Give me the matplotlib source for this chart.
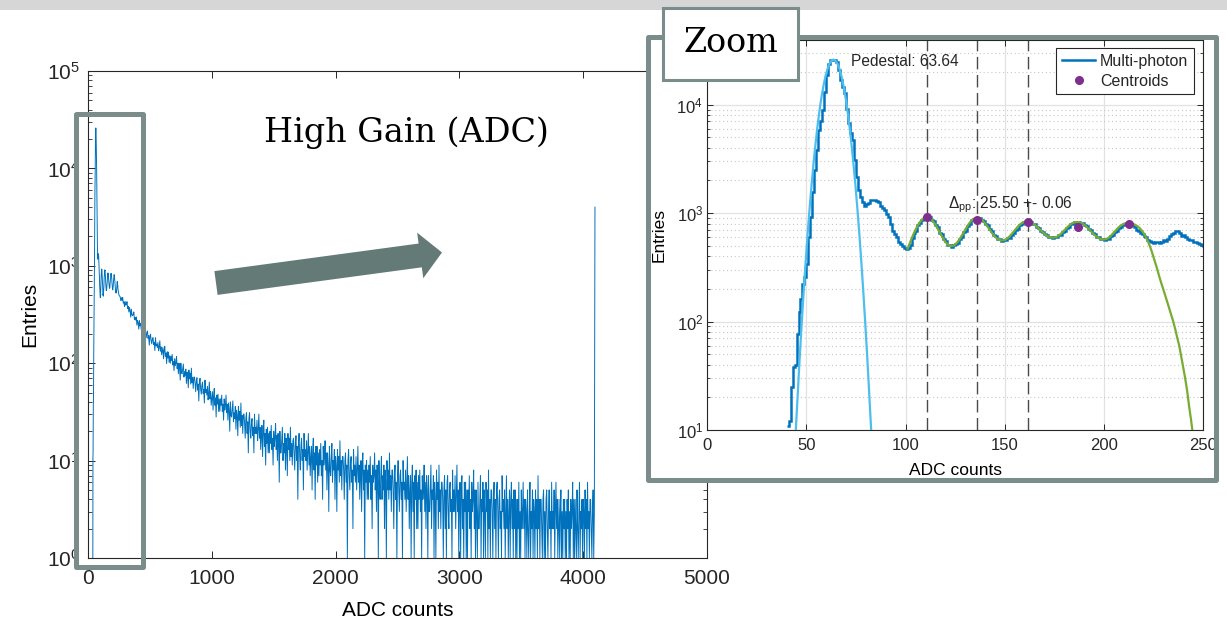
import numpy as np
import matplotlib
matplotlib.use('Agg')
import matplotlib.pyplot as plt
from matplotlib.patches import Rectangle, FancyArrow

plt.rcParams.update({
    'font.family': ['Liberation Sans', 'DejaVu Sans'],
    'mathtext.fontset': 'custom',
    'mathtext.rm': 'Liberation Sans',
    'mathtext.it': 'Liberation Sans:italic',
    'mathtext.default': 'regular',
    'axes.edgecolor': '#262626',
    'axes.linewidth': 0.8,
    'text.color': '#262626',
    'xtick.color': '#262626',
    'ytick.color': '#262626',
    'xtick.direction': 'in',
    'ytick.direction': 'in',
})

W, H = 1227, 624
BLUE = '#0072bd'
CYAN = '#4dbeee'
GREEN = '#77ac30'
PURPLE = '#7e2f8e'
SLATE = '#7b8d8b'
SLATE_DARK = '#647a77'

# multi-photon spectrum, 1-ADC bins starting at 40
zoom_adc = np.arange(40, 251)
zoom_counts = [
    11, 12, 25, 38, 40, 76, 122, 163, 224, 260,
    340, 600, 910, 1570, 2480, 3800, 5820, 7000, 8900, 13000,
    18600, 23900, 25500, 26000, 25500, 24500, 20700, 16700, 14500, 12700,
    9200, 6700, 5500, 4700, 3070, 2150, 1630, 1400, 1260, 1170,
    1220, 1240, 1310, 1330, 1330, 1300, 1260, 1170, 1120, 1060,
    980, 920, 790, 690, 640, 600, 540, 520, 500, 475,
    470, 478, 512, 590, 655, 690, 772, 808, 872, 884,
    925, 905, 912, 862, 846, 772, 742, 660, 636, 572,
    552, 508, 512, 488, 505, 520, 528, 575, 598, 662,
    690, 762, 792, 858, 870, 905, 890, 902, 868, 852,
    800, 772, 712, 684, 632, 615, 578, 574, 556, 566,
    560, 584, 592, 632, 650, 700, 720, 770, 786, 824,
    826, 845, 830, 832, 800, 790, 748, 732, 690, 676,
    640, 630, 602, 604, 588, 598, 596, 622, 630, 670,
    686, 730, 748, 790, 800, 826, 818, 832, 812, 810,
    776, 762, 718, 700, 658, 642, 606, 598, 574, 578,
    566, 580, 582, 612, 624, 668, 684, 730, 746, 784,
    790, 812, 800, 790, 770, 740, 700, 690, 660, 640,
    610, 600, 570, 550, 540, 530, 545, 540, 525, 545,
    560, 555, 580, 610, 640, 650, 690, 680, 650, 620,
    630, 600, 575, 570, 560, 545, 540, 525, 520, 510,
    500,
]

# full-range spectrum above the zoom window, one bin every 5 ADC
tail_adc = np.arange(260, 4091, 5)
tail_counts = [
    # 260 - 355
    480, 438, 471, 441, 472, 414, 426, 381, 431, 394,
    400, 428, 365, 383, 336, 374, 346, 297, 359, 314,
    307, 319, 336, 281, 295, 277, 298, 246, 276, 260,
    224, 275, 242, 256, 222, 270, 219, 232, 199, 228,
    # 460 - 655
    224, 204, 183, 207, 214, 180, 192, 153, 190, 199,
    170, 158, 177, 183, 156, 163, 135, 183, 151, 157,
    145, 163, 134, 146, 170, 133, 147, 122, 134, 145,
    111, 136, 149, 117, 127, 99, 131, 113, 130, 102,
    # 660 - 855
    119, 100, 118, 106, 123, 96, 104, 84, 111, 95,
    100, 117, 88, 100, 78, 100, 89, 67, 100, 80,
    78, 87, 98, 72, 82, 75, 87, 62, 81, 74,
    56, 85, 69, 79, 61, 89, 63, 71, 55, 72,
    # 860 - 1055
    72, 62, 51, 66, 71, 53, 61, 41, 64, 70,
    54, 48, 59, 64, 49, 54, 39, 67, 50, 54,
    47, 58, 42, 49, 64, 43, 51, 37, 44, 51,
    33, 47, 55, 37, 44, 28, 47, 38, 48, 32,
    # 1060 - 1255
    43, 32, 43, 37, 47, 32, 38, 26, 43, 33,
    37, 47, 31, 38, 26, 39, 33, 20, 40, 29,
    28, 34, 41, 25, 31, 27, 36, 21, 33, 29,
    18, 36, 26, 32, 22, 39, 23, 29, 19, 30,
    # 1260 - 1455
    30, 24, 17, 27, 31, 19, 25, 12, 27, 31,
    20, 17, 24, 27, 18, 22, 12, 30, 19, 22,
    19, 26, 16, 21, 30, 17, 22, 13, 18, 23,
    11, 20, 26, 14, 19, 9, 21, 15, 22, 12,
    # 1460 - 1655
    19, 12, 20, 15, 23, 13, 17, 9, 20, 14,
    17, 24, 13, 18, 10, 19, 15, 6, 20, 12,
    12, 16, 22, 10, 15, 12, 19, 8, 17, 14,
    7, 19, 13, 17, 10, 22, 11, 15, 9, 16,
    # 1660 - 1855
    17, 12, 8, 15, 18, 10, 14, 4, 15, 19,
    11, 8, 14, 17, 10, 13, 5, 19, 11, 13,
    10, 16, 8, 12, 19, 9, 14, 7, 11, 14,
    5, 13, 17, 8, 12, 4, 14, 9, 14, 6,
    # 1860 - 2055
    12, 7, 13, 9, 15, 7, 10, 4, 14, 9,
    11, 16, 8, 12, 5, 12, 9, 3, 14, 8,
    7, 11, 15, 6, 10, 8, 13, 4, 11, 9,
    3, 13, 8, 11, 6, 16, 7, 10, 5, 11,
    # 2060 - 2255
    11, 8, 4, 10, 12, 6, 9, 1, 10, 13,
    7, 5, 9, 11, 6, 8, 2, 13, 7, 9,
    6, 11, 5, 8, 14, 6, 9, 4, 7, 10,
    3, 9, 12, 5, 8, 1, 9, 6, 10, 4,
    # 2260 - 2455
    8, 4, 9, 6, 11, 4, 7, 2, 9, 6,
    7, 12, 5, 8, 3, 9, 6, 1, 10, 5,
    4, 7, 11, 4, 7, 5, 9, 2, 8, 6,
    1, 10, 5, 8, 4, 12, 5, 7, 3, 8,
    # 2460 - 2655
    8, 5, 2, 7, 9, 4, 6, 1, 7, 10,
    5, 3, 7, 8, 4, 6, 1, 10, 5, 6,
    4, 8, 3, 6, 11, 4, 7, 2, 5, 7,
    1, 6, 9, 3, 6, 1, 7, 4, 8, 2,
    # 2660 - 2855
    6, 2, 7, 4, 8, 3, 5, 1, 7, 4,
    5, 9, 3, 6, 2, 7, 5, 1, 7, 3,
    3, 5, 9, 2, 5, 4, 7, 1, 6, 4,
    1, 8, 4, 6, 2, 9, 3, 5, 2, 6,
    # 2860 - 3055
    6, 4, 1, 5, 7, 2, 5, 1, 6, 7,
    3, 2, 5, 6, 3, 4, 1, 8, 3, 5,
    3, 7, 2, 4, 9, 3, 5, 1, 4, 6,
    1, 5, 7, 2, 4, 1, 6, 3, 6, 1,
    # 3060 - 3255
    5, 1, 5, 3, 7, 2, 4, 1, 6, 3,
    4, 8, 2, 5, 1, 5, 3, 1, 6, 2,
    2, 4, 7, 1, 4, 3, 6, 1, 5, 3,
    1, 6, 3, 5, 1, 8, 2, 4, 1, 5,
    # 3260 - 3455
    5, 3, 1, 4, 6, 2, 4, 1, 5, 6,
    3, 1, 4, 5, 2, 3, 1, 7, 3, 4,
    2, 5, 1, 3, 7, 2, 4, 1, 3, 5,
    1, 4, 6, 2, 4, 1, 5, 2, 5, 1,
    # 3460 - 3655
    4, 1, 4, 2, 6, 1, 3, 1, 5, 2,
    3, 6, 2, 4, 1, 4, 3, 1, 5, 2,
    1, 3, 6, 1, 3, 2, 5, 1, 4, 3,
    1, 5, 2, 4, 1, 7, 2, 4, 1, 4,
    # 3660 - 3855
    4, 2, 1, 4, 5, 1, 3, 1, 4, 5,
    2, 1, 3, 5, 2, 3, 1, 6, 2, 3,
    2, 5, 1, 3, 6, 2, 4, 1, 2, 4,
    1, 3, 5, 1, 3, 1, 4, 2, 4, 1,
    # 3860 - 4055
    3, 1, 4, 2, 5, 1, 3, 1, 4, 2,
    3, 6, 1, 4, 1, 4, 2, 1, 5, 2,
    1, 3, 6, 1, 3, 2, 4, 1, 4, 3,
    1, 5, 2, 4, 1, 6, 2, 3, 1, 4,
    # 4060 - 4090
    4, 2, 1, 3, 5, 1, 3,
]
overflow_adc = 4095
overflow_count = 4000

# pedestal gaussian fit, offsets from the pedestal mean
pedestal_mean = 63.64
ped_fit_offset = np.arange(-20, 21)
ped_fit_counts = [
    4.3, 10, 22, 48, 98, 194, 364, 655, 1130, 1864, 2943,
    4455, 6450, 8940, 11870, 15080, 18360, 21370, 23840, 25430, 26000,
    25430, 23840, 21370, 18360, 15080, 11870, 8940, 6450, 4455, 2943,
    1864, 1130, 655, 364, 194, 98, 48, 22, 10, 4.3,
]

# multi-photon peak fit
mp_fit_adc = np.arange(101, 246)
mp_fit_counts = [
    470, 520, 580, 640, 700, 760, 815, 860, 895, 915,
    918, 905, 875, 835, 785, 730, 675, 625, 580, 545,
    518, 502, 497, 500, 512, 535, 565, 605, 650, 700,
    750, 800, 845, 878, 895, 900, 893, 875, 845, 808,
    765, 720, 677, 640, 608, 585, 568, 561, 560, 565,
    578, 598, 625, 657, 692, 728, 763, 793, 817, 832,
    838, 836, 826, 808, 783, 755, 726, 697, 670, 645,
    624, 608, 598, 593, 594, 600, 615, 636, 662, 692,
    723, 755, 784, 806, 820, 826, 826, 820, 805, 783,
    756, 726, 695, 665, 637, 612, 592, 579, 572, 570,
    574, 586, 605, 630, 660, 692, 724, 754, 778, 796,
    805, 806, 806, 800, 790, 775, 755, 728, 695, 655,
    610, 560, 505, 451, 395, 345, 300, 258, 225, 198,
    173, 151, 132, 115, 100, 85, 71, 60, 48, 38,
    30, 23, 16.5, 12.3, 8.8,
]

centroid_adc = [110.6, 136.1, 161.6, 187.1, 212.6]
centroid_counts = [918, 858, 826, 743, 798]
delta_pp = 25.50
delta_pp_err = 0.06

fig = plt.figure(figsize=(W / 100, H / 100), dpi=100)

# ---- full-range spectrum ----
ax = fig.add_axes([88 / W, 1 - 558 / H, 619 / W, 487 / H], zorder=0)
full_adc = np.concatenate([[39], zoom_adc, tail_adc, [overflow_adc]])
full_counts = np.concatenate([[1], zoom_counts, tail_counts, [overflow_count]])
ax.plot(full_adc, full_counts, color=BLUE, lw=0.7)
ax.set_yscale('log')
ax.set_xlim(0, 5000)
ax.set_ylim(1, 1e5)
ax.set_xticks(np.arange(0, 5001, 1000))
ax.set_yticks([1, 10, 100, 1e3, 1e4, 1e5])
ax.tick_params(which='both', top=True, right=True, labelsize=15)
ax.tick_params(which='major', length=5, width=0.7)
ax.tick_params(which='minor', length=3, width=0.6)
ax.tick_params(axis='x', pad=8)
ax.tick_params(axis='y', pad=6)
ax.set_xlabel('ADC counts', fontsize=15)
ax.set_ylabel('Entries', fontsize=15)
ax.xaxis.set_label_coords(0.5, -0.088)
ax.yaxis.set_label_coords(-0.079, 0.5)

# white card behind the zoomed view
back = fig.add_axes([0, 0, 1, 1], zorder=1)
back.set_xlim(0, W)
back.set_ylim(H, 0)
back.set_axis_off()
back.add_patch(Rectangle((648, 37), 568, 443, fc='white', ec='none'))

# ---- zoom on the pedestal and first photo-electron peaks ----
ins = fig.add_axes([707.3 / W, 1 - 430 / H, 495.7 / W, 390.5 / H], zorder=2)
ins.set_yscale('log')
ins.set_xlim(0, 250)
ins.set_ylim(10, 10 ** 4.6)
ins.set_axisbelow(True)
ins.grid(True, which='major', color='#e2e2e2', lw=0.9, ls='-')
ins.grid(True, which='minor', axis='y', color='#c8c8c8', lw=0.8, ls=(0, (1, 2.5)))
for x in centroid_adc[:3]:
    ins.axvline(x, color='#4a4a4a', lw=1.0, ls=(0, (9, 4)), zorder=1.5)
ins.stairs(zoom_counts, np.arange(40, 252), baseline=None, color=BLUE, lw=1.8,
           label='Multi-photon', zorder=2)
ins.plot(pedestal_mean + ped_fit_offset, ped_fit_counts, color=CYAN, lw=1.6, zorder=3)
ins.plot(mp_fit_adc, mp_fit_counts, color=GREEN, lw=1.6, zorder=3)
ins.plot(centroid_adc, centroid_counts, 'o', color=PURPLE, ms=5.5, label='Centroids', zorder=4)
ins.text(72.4, 22500, 'Pedestal: %.2f' % pedestal_mean, fontsize=11.2, va='baseline', ha='left')
ins.text(121.5, 1105, r'$\Delta_{pp}$: %.2f +- %.2f' % (delta_pp, delta_pp_err),
         fontsize=11.2, va='baseline', ha='left')
ins.set_xticks(np.arange(0, 251, 50))
ins.set_yticks([10, 100, 1e3, 1e4])
ins.tick_params(which='both', top=True, right=True, labelsize=12)
ins.tick_params(which='major', length=4, width=0.7)
ins.tick_params(which='minor', length=2.5, width=0.6)
ins.tick_params(axis='x', pad=6)
ins.tick_params(axis='y', pad=3)
ins.set_xlabel('ADC counts', fontsize=12.5)
ins.set_ylabel('Entries', fontsize=12.5)
ins.xaxis.set_label_coords(0.5, -0.085)
ins.yaxis.set_label_coords(-0.083, 0.5)
leg = ins.legend(loc='upper right', bbox_to_anchor=(0.982, 0.977), borderaxespad=0,
                 fontsize=11.5, fancybox=False, framealpha=1, edgecolor='#262626',
                 borderpad=0.35, labelspacing=0.3, handlelength=2.1, handletextpad=0.3)
leg.get_frame().set_linewidth(0.8)

# ---- slide decorations ----
front = fig.add_axes([0, 0, 1, 1], zorder=3)
front.set_xlim(0, W)
front.set_ylim(H, 0)
front.set_axis_off()
front.add_patch(Rectangle((0, 0), W, 10, fc='#d6d6d6', ec='none'))
front.add_patch(Rectangle((648, 37), 568, 443, fill=False, ec=SLATE, lw=3.6,
                          joinstyle='round'))
front.add_patch(Rectangle((75.5, 114), 67, 453, fill=False, ec=SLATE, lw=3.6,
                          joinstyle='round'))
front.add_patch(FancyArrow(216, 283, 226, -30.5, width=24, head_width=46, head_length=22,
                           length_includes_head=True, fc=SLATE_DARK, ec='none'))
front.text(406, 133, 'High Gain (ADC)', family='DejaVu Serif', fontsize=24,
           color='black', ha='center', va='center')
front.add_patch(Rectangle((663, 8), 135, 72, fc='white', ec=SLATE, lw=2.2))
front.text(730.5, 43, 'Zoom', family='DejaVu Serif', fontsize=24,
           color='black', ha='center', va='center')

fig.savefig('out.png', dpi=100)
